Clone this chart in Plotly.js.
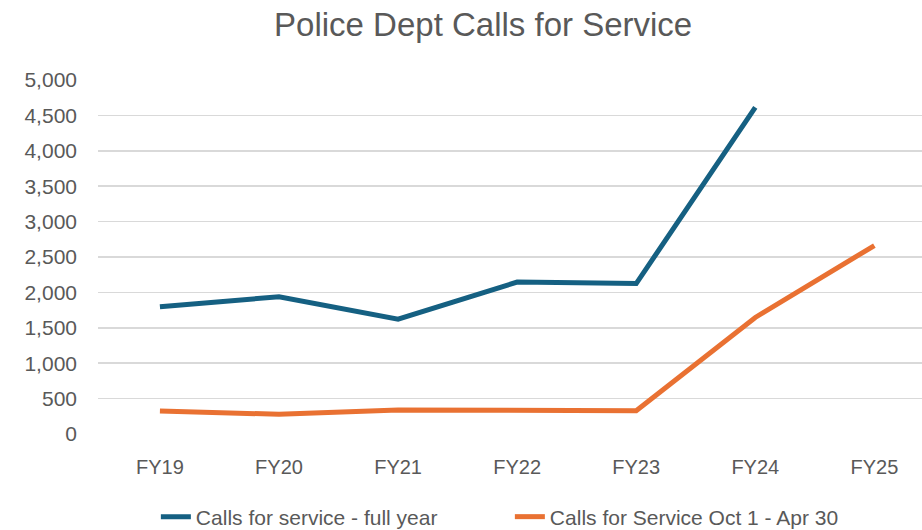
<!DOCTYPE html>
<html><head><meta charset="utf-8">
<script src="https://cdn.plot.ly/plotly-3.0.1.min.js"></script>
<style>html,body{margin:0;padding:0;background:#fff}#chart{width:922px;height:530px}</style>
</head><body><div id="chart"></div>
<script>
const categories = ["FY19","FY20","FY21","FY22","FY23","FY24","FY25"];
const fullYear = [1797, 1939, 1623, 2146, 2125, 4614, null];
const octToApr = [325, 278, 340, 335, 328, 1646, 2662];
const yTicks = [0,500,1000,1500,2000,2500,3000,3500,4000,4500,5000];
const yTickText = ["0","500","1,000","1,500","2,000","2,500","3,000","3,500","4,000","4,500","5,000"];

const fontFam = "Liberation Sans, Arial, sans-serif";
const textCol = "#595959";
const traces = [
  {x: categories, y: fullYear, name: "Calls for service - full year", type: "scatter", mode: "lines",
   line: {color: "#156082", width: 5}, connectgaps: false},
  {x: categories, y: octToApr, name: "Calls for Service Oct 1 - Apr 30", type: "scatter", mode: "lines",
   line: {color: "#E97132", width: 5}}
];
const layout = {
  width: 922, height: 530,
  margin: {l: 98, r: 0, t: 80, b: 96, autoexpand: false},
  paper_bgcolor: "#fff", plot_bgcolor: "#fff",
  font: {family: fontFam, color: textCol, size: 20},
  title: {text: "Police Dept Calls for Service", font: {size: 33, color: textCol, family: fontFam},
          x: 0.524, xanchor: "center", y: 1 - 24/530, yanchor: "middle", yref: "container"},
  xaxis: {type: "category", range: [-0.52, 6.40], showgrid: false, zeroline: false, showline: false,
          automargin: false, ticks: "", ticklabelstandoff: 19, tickfont: {size: 20, color: textCol}},
  yaxis: {range: [0, 5000], tickvals: yTicks, ticktext: yTickText, showgrid: true, gridcolor: "#D9D9D9",
          gridwidth: 1.5, zeroline: false, showline: false, ticks: "", ticklabelstandoff: 20,
          automargin: false, tickfont: {size: 21, color: textCol}},
  showlegend: true,
  legend: {orientation: "h", xref: "container", yref: "container", x: 0.553, xanchor: "center",
           y: 1 - 517/530, yanchor: "middle",
           font: {size: 21, color: textCol}, entrywidth: 309, entrywidthmode: "pixels", tracegroupgap: 0},
  hovermode: false
};
Plotly.newPlot("chart", traces, layout, {displayModeBar: false, staticPlot: true});
</script></body></html>
